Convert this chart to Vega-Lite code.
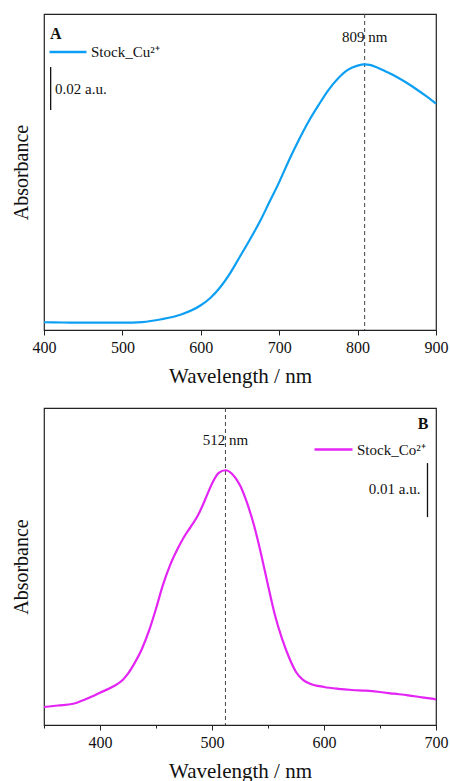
{
  "$schema": "https://vega.github.io/schema/vega-lite/v6.json",
  "autosize": {"type": "pad"},
  "padding": {"left": 10, "top": 12, "right": 5, "bottom": 0},
  "background": "white",
  "bounds": "flush",
  "spacing": 78,
  "config": {
    "font": "Liberation Serif",
    "view": {"stroke": "#222", "strokeWidth": 1.2},
    "axis": {"labelFont": "Liberation Serif", "titleFont": "Liberation Serif", "titleFontWeight": "normal", "labelColor": "#111", "titleColor": "#111"},
    "legend": {"labelFont": "Liberation Serif"}
  },
  "resolve": {"scale": {"color": "independent"}, "legend": {"color": "independent"}},
  "datasets": {
    "cu": [
      {"wl": 400, "abs": 0.0036, "s": "Stock_Cu²⁺"},
      {"wl": 425, "abs": 0.0035, "s": "Stock_Cu²⁺"},
      {"wl": 450, "abs": 0.0034, "s": "Stock_Cu²⁺"},
      {"wl": 475, "abs": 0.0034, "s": "Stock_Cu²⁺"},
      {"wl": 500, "abs": 0.0034, "s": "Stock_Cu²⁺"},
      {"wl": 525, "abs": 0.0037, "s": "Stock_Cu²⁺"},
      {"wl": 550, "abs": 0.0050, "s": "Stock_Cu²⁺"},
      {"wl": 575, "abs": 0.0072, "s": "Stock_Cu²⁺"},
      {"wl": 600, "abs": 0.0115, "s": "Stock_Cu²⁺"},
      {"wl": 612.5, "abs": 0.0150, "s": "Stock_Cu²⁺"},
      {"wl": 625, "abs": 0.0200, "s": "Stock_Cu²⁺"},
      {"wl": 637.5, "abs": 0.0265, "s": "Stock_Cu²⁺"},
      {"wl": 650, "abs": 0.0342, "s": "Stock_Cu²⁺"},
      {"wl": 662.5, "abs": 0.0420, "s": "Stock_Cu²⁺"},
      {"wl": 675, "abs": 0.0502, "s": "Stock_Cu²⁺"},
      {"wl": 687.5, "abs": 0.0595, "s": "Stock_Cu²⁺"},
      {"wl": 700, "abs": 0.0688, "s": "Stock_Cu²⁺"},
      {"wl": 712.5, "abs": 0.0790, "s": "Stock_Cu²⁺"},
      {"wl": 725, "abs": 0.0884, "s": "Stock_Cu²⁺"},
      {"wl": 737.5, "abs": 0.0970, "s": "Stock_Cu²⁺"},
      {"wl": 750, "abs": 0.1045, "s": "Stock_Cu²⁺"},
      {"wl": 762.5, "abs": 0.1115, "s": "Stock_Cu²⁺"},
      {"wl": 775, "abs": 0.1170, "s": "Stock_Cu²⁺"},
      {"wl": 787.5, "abs": 0.1210, "s": "Stock_Cu²⁺"},
      {"wl": 800, "abs": 0.1230, "s": "Stock_Cu²⁺"},
      {"wl": 809, "abs": 0.1236, "s": "Stock_Cu²⁺"},
      {"wl": 817, "abs": 0.1232, "s": "Stock_Cu²⁺"},
      {"wl": 825, "abs": 0.1221, "s": "Stock_Cu²⁺"},
      {"wl": 837.5, "abs": 0.1200, "s": "Stock_Cu²⁺"},
      {"wl": 850, "abs": 0.1177, "s": "Stock_Cu²⁺"},
      {"wl": 862.5, "abs": 0.1150, "s": "Stock_Cu²⁺"},
      {"wl": 875, "abs": 0.1120, "s": "Stock_Cu²⁺"},
      {"wl": 887.5, "abs": 0.1088, "s": "Stock_Cu²⁺"},
      {"wl": 900, "abs": 0.1053, "s": "Stock_Cu²⁺"}
    ],
    "co": [
      {"wl": 350, "abs": 0.00333, "s": "Stock_Co²⁺"},
      {"wl": 362.5, "abs": 0.00361, "s": "Stock_Co²⁺"},
      {"wl": 376, "abs": 0.00394, "s": "Stock_Co²⁺"},
      {"wl": 387.5, "abs": 0.00481, "s": "Stock_Co²⁺"},
      {"wl": 400, "abs": 0.00598, "s": "Stock_Co²⁺"},
      {"wl": 412.5, "abs": 0.00722, "s": "Stock_Co²⁺"},
      {"wl": 420, "abs": 0.00828, "s": "Stock_Co²⁺"},
      {"wl": 425, "abs": 0.00950, "s": "Stock_Co²⁺"},
      {"wl": 431, "abs": 0.01150, "s": "Stock_Co²⁺"},
      {"wl": 437.5, "abs": 0.01413, "s": "Stock_Co²⁺"},
      {"wl": 444, "abs": 0.01760, "s": "Stock_Co²⁺"},
      {"wl": 450, "abs": 0.02154, "s": "Stock_Co²⁺"},
      {"wl": 456, "abs": 0.02580, "s": "Stock_Co²⁺"},
      {"wl": 462.5, "abs": 0.02957, "s": "Stock_Co²⁺"},
      {"wl": 469, "abs": 0.03250, "s": "Stock_Co²⁺"},
      {"wl": 475, "abs": 0.03481, "s": "Stock_Co²⁺"},
      {"wl": 481, "abs": 0.03670, "s": "Stock_Co²⁺"},
      {"wl": 487.5, "abs": 0.03883, "s": "Stock_Co²⁺"},
      {"wl": 494, "abs": 0.04180, "s": "Stock_Co²⁺"},
      {"wl": 500, "abs": 0.04469, "s": "Stock_Co²⁺"},
      {"wl": 506, "abs": 0.04667, "s": "Stock_Co²⁺"},
      {"wl": 512, "abs": 0.04717, "s": "Stock_Co²⁺"},
      {"wl": 518, "abs": 0.04648, "s": "Stock_Co²⁺"},
      {"wl": 525, "abs": 0.04439, "s": "Stock_Co²⁺"},
      {"wl": 531, "abs": 0.04130, "s": "Stock_Co²⁺"},
      {"wl": 537.5, "abs": 0.03698, "s": "Stock_Co²⁺"},
      {"wl": 544, "abs": 0.03150, "s": "Stock_Co²⁺"},
      {"wl": 550, "abs": 0.02587, "s": "Stock_Co²⁺"},
      {"wl": 556, "abs": 0.02050, "s": "Stock_Co²⁺"},
      {"wl": 562.5, "abs": 0.01598, "s": "Stock_Co²⁺"},
      {"wl": 569, "abs": 0.01240, "s": "Stock_Co²⁺"},
      {"wl": 575, "abs": 0.00981, "s": "Stock_Co²⁺"},
      {"wl": 581, "abs": 0.00840, "s": "Stock_Co²⁺"},
      {"wl": 587.5, "abs": 0.00765, "s": "Stock_Co²⁺"},
      {"wl": 600, "abs": 0.00704, "s": "Stock_Co²⁺"},
      {"wl": 612.5, "abs": 0.00670, "s": "Stock_Co²⁺"},
      {"wl": 625, "abs": 0.00648, "s": "Stock_Co²⁺"},
      {"wl": 637.5, "abs": 0.00635, "s": "Stock_Co²⁺"},
      {"wl": 650, "abs": 0.00611, "s": "Stock_Co²⁺"},
      {"wl": 662.5, "abs": 0.00580, "s": "Stock_Co²⁺"},
      {"wl": 675, "abs": 0.00550, "s": "Stock_Co²⁺"},
      {"wl": 687.5, "abs": 0.00512, "s": "Stock_Co²⁺"},
      {"wl": 700, "abs": 0.00476, "s": "Stock_Co²⁺"}
    ]
  },
  "vconcat": [
    {
      "width": 392,
      "height": 316,
      "layer": [
        {
          "data": {"values": [{}]},
          "mark": {"type": "text", "text": "809 nm", "fontSize": 15, "color": "#111", "align": "center", "baseline": "middle"},
          "encoding": {"x": {"datum": 809}, "y": {"datum": 0.1363}}
        },
        {
          "data": {"values": [{}]},
          "mark": {"type": "rule", "color": "#444", "strokeDash": [4, 3], "strokeWidth": 1},
          "encoding": {"x": {"datum": 809}}
        },
        {
          "data": {"name": "cu"},
          "mark": {"type": "line", "strokeWidth": 2.2, "interpolate": "monotone"},
          "encoding": {
            "x": {"field": "wl", "type": "quantitative", "scale": {"domain": [400, 900], "nice": false, "zero": false},
              "axis": {"title": "Wavelength / nm", "values": [400, 450, 500, 550, 600, 650, 700, 750, 800, 850, 900], "labelExpr": "datum.value % 100 === 0 ? datum.label : ''", "tickSize": {"condition": {"test": "datum.value % 100 === 0", "value": 5}, "value": 3}, "tickColor": "#222", "domainColor": "#222", "labelFontSize": 16, "labelPadding": 4, "titleFontSize": 21, "titlePadding": 10, "grid": false, "labelFlush": false}},
            "y": {"field": "abs", "type": "quantitative", "scale": {"domain": [0, 0.147], "nice": false, "zero": false},
              "axis": {"title": "Absorbance", "labels": false, "ticks": false, "domain": false, "grid": false, "titleFontSize": 20, "titlePadding": 13}},
            "color": {"field": "s", "type": "nominal", "scale": {"range": ["#0D9FF3"]},
              "legend": {"title": null, "orient": "none", "legendX": 4, "legendY": 18, "padding": 0, "symbolType": "stroke", "symbolSize": 1369, "symbolStrokeWidth": 2.5, "labelFontSize": 15, "labelOffset": 3, "labelColor": "#111"}}
          }
        },
        {
          "data": {"values": [{}]},
          "mark": {"type": "text", "text": "A", "fontSize": 16, "fontWeight": "bold", "color": "#111", "align": "left", "baseline": "middle"},
          "encoding": {"x": {"datum": 407.6}, "y": {"datum": 0.1377}}
        },
        {
          "data": {"values": [{}]},
          "mark": {"type": "rule", "color": "#111", "strokeWidth": 1.3},
          "encoding": {"x": {"datum": 408.5}, "y": {"datum": 0.1223}, "y2": {"datum": 0.1023}}
        },
        {
          "data": {"values": [{}]},
          "mark": {"type": "text", "text": "0.02 a.u.", "fontSize": 15, "color": "#111", "align": "left", "baseline": "middle"},
          "encoding": {"x": {"datum": 414}, "y": {"datum": 0.1121}}
        }
      ]
    },
    {
      "width": 392,
      "height": 317,
      "layer": [
        {
          "data": {"values": [{}]},
          "mark": {"type": "text", "text": "512 nm", "fontSize": 15, "color": "#111", "align": "center", "baseline": "middle"},
          "encoding": {"x": {"datum": 512}, "y": {"datum": 0.0528}}
        },
        {
          "data": {"values": [{}]},
          "mark": {"type": "rule", "color": "#444", "strokeDash": [4, 3], "strokeWidth": 1},
          "encoding": {"x": {"datum": 512}}
        },
        {
          "data": {"name": "co"},
          "mark": {"type": "line", "strokeWidth": 2.2, "interpolate": "monotone"},
          "encoding": {
            "x": {"field": "wl", "type": "quantitative", "scale": {"domain": [350, 700], "nice": false, "zero": false},
              "axis": {"title": "Wavelength / nm", "values": [350, 400, 450, 500, 550, 600, 650, 700], "labelExpr": "datum.value % 100 === 0 ? datum.label : ''", "tickSize": {"condition": {"test": "datum.value % 100 === 0", "value": 5}, "value": 3}, "tickColor": "#222", "domainColor": "#222", "labelFontSize": 16, "labelPadding": 4, "titleFontSize": 21, "titlePadding": 10, "grid": false, "labelFlush": false}},
            "y": {"field": "abs", "type": "quantitative", "scale": {"domain": [0, 0.0587], "nice": false, "zero": false},
              "axis": {"title": "Absorbance", "labels": false, "ticks": false, "domain": false, "grid": false, "titleFontSize": 20, "titlePadding": 13}},
            "color": {"field": "s", "type": "nominal", "scale": {"range": ["#E324F5"]},
              "legend": {"title": null, "orient": "none", "legendX": 269, "legendY": 21, "padding": 0, "symbolType": "stroke", "symbolSize": 1444, "symbolStrokeWidth": 2.5, "labelFontSize": 15, "labelOffset": 3, "labelColor": "#111"}}
          }
        },
        {
          "data": {"values": [{}]},
          "mark": {"type": "text", "text": "B", "fontSize": 16, "fontWeight": "bold", "color": "#111", "align": "right", "baseline": "middle"},
          "encoding": {"x": {"datum": 693.3}, "y": {"datum": 0.0557}}
        },
        {
          "data": {"values": [{}]},
          "mark": {"type": "rule", "color": "#111", "strokeWidth": 1.3},
          "encoding": {"x": {"datum": 692.4}, "y": {"datum": 0.0485}, "y2": {"datum": 0.0385}}
        },
        {
          "data": {"values": [{}]},
          "mark": {"type": "text", "text": "0.01 a.u.", "fontSize": 15, "color": "#111", "align": "right", "baseline": "middle"},
          "encoding": {"x": {"datum": 686.2}, "y": {"datum": 0.0437}}
        }
      ]
    }
  ]
}
